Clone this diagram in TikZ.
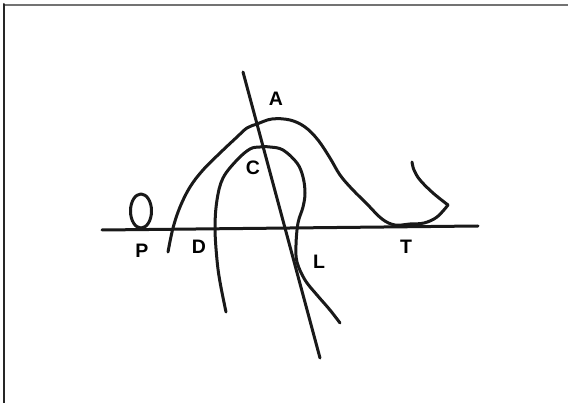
\documentclass[tikz,border=0pt]{standalone}
\usepackage{fontspec}
\setmainfont{Liberation Sans}
\usepackage{tikz}
\usetikzlibrary{calc}

\begin{document}
\begin{tikzpicture}[x=1pt, y=-1pt, line cap=round, line join=round,
    curve/.style={line width=3pt, black!90},
    lbl/.style={font=\bfseries\fontsize{19.5}{19.5}\selectfont, inner sep=0pt}]
                \useasboundingbox (0,0) rectangle (568,403);
                % 1. Khung
                \draw[line width=2pt, black!55] (4,4.7) -- (568,4.7);
                \draw[line width=2pt, black!85] (4.3,4) -- (4.3,403);
                
                % 2. Đường nằm ngang và đường thẳng xiên
                \draw[curve] (102,230) -- (478,226);
                \draw[curve] (243,72) -- (320,358);
                
                % 3. Vòng nhỏ P
                \draw[curve] (141,211) ellipse (10.5 and 17);
                
                % 4. Đường cong lớn qua A và móc ở T
                \draw[curve] plot[smooth, tension=0.6] coordinates {
                    (168,252) (173,228) (180,207) (190,187) (203,170) (220,153)
                    (237,137) (247,128) (257,124) (272,119) (290,120) (305,127)
                    (318,140) (330,158) (340,175) (352,189) (367,204) (382,219)
                    (395,225) (410,224) (424,223) (437,217) (448,205)};
                \draw[curve] plot[smooth, tension=0.6] coordinates {
                    (448,205) (433,193) (420,180) (414,170) (412,162)};
                
                % 5. Đường cong trong qua C và L
                \draw[curve] plot[smooth, tension=0.6] coordinates {
                    (226,312) (220,282) (217,260) (215,228) (217,200) (223,178)
                    (237,160) (250,149) (260,147) (270,147) (283,150) (297,163)
                    (303,177) (305,193) (303,207) (298,223) (296,245) (297,262)
                    (305,280) (317,295) (330,310) (340,323)};
                
                % 6. Nhãn
                \node[lbl] (A) at (276,99) {A};
                \node[lbl] (C) at (253,168) {C};
                \node[lbl] (P) at (142,251) {P};
                \node[lbl] (D) at (199,247) {D};
                \node[lbl] (T) at (406,247) {T};
                \node[lbl] (L) at (319,262) {L};
            \end{tikzpicture}
\end{document}
